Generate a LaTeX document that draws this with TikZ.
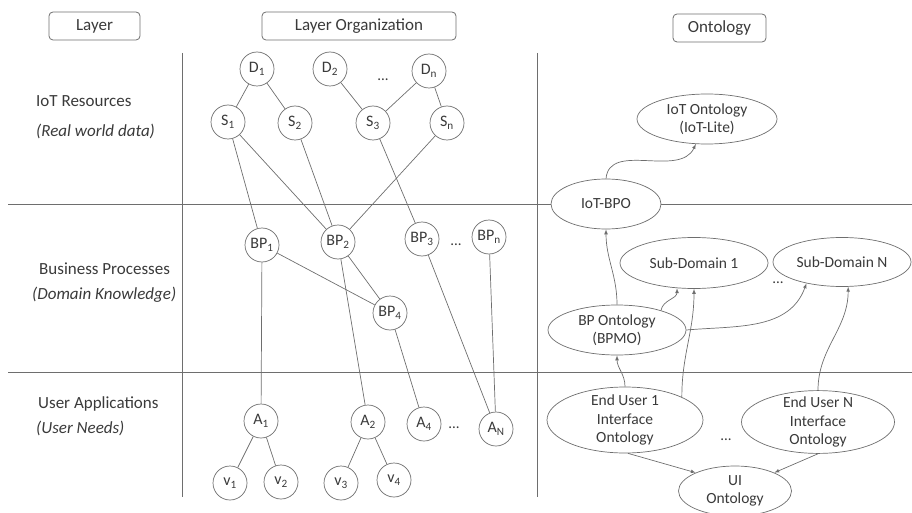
\documentclass[tikz,border=0pt]{standalone}
\usepackage{fontspec}
\setmainfont{Carlito}
\usetikzlibrary{arrows,shapes.geometric}
\definecolor{linegray}{HTML}{6E6E6E}
\definecolor{textgray}{HTML}{3A3A3A}

\begin{document}
\begin{tikzpicture}[x=1pt,y=1pt]
\tikzstyle{every node}=[text=textgray]
\tikzstyle{head}=[draw=linegray,line width=0.8pt,rounded corners=4pt,minimum height=28pt,inner sep=0pt,font=\fontsize{17}{20}\selectfont]
\tikzstyle{layer}=[anchor=west,inner sep=0pt,font=\fontsize{17}{20}\selectfont]
\tikzstyle{vtx}=[draw=linegray,fill=white,circle,line width=0.7pt,minimum size=34pt,inner sep=0pt,font=\fontsize{16}{18}\selectfont]
\tikzstyle{onto}=[draw=linegray,fill=white,ellipse,line width=0.7pt,inner sep=0pt,align=center,font=\fontsize{15.5}{18.5}\selectfont]
\tikzstyle{dots}=[inner sep=0pt,font=\fontsize{15}{18}\selectfont]
\tikzstyle{edge}=[draw=linegray,line width=0.7pt]
\tikzstyle{arr}=[-latex,draw=linegray,line width=0.7pt]
\useasboundingbox (0,0) rectangle (912,-513);
\draw[linegray,line width=0.8pt] (182,-53) -- (182,-497);
\draw[linegray,line width=0.8pt] (537,-53) -- (537,-497);
\draw[linegray,line width=0.8pt] (8,-204) -- (912,-204);
\draw[linegray,line width=0.8pt] (8,-372) -- (912,-372);
\draw (94.5,-26) node (hlayer) [head,minimum width=91pt] {Layer};
\draw (359,-26) node (horg) [head,minimum width=194pt] {Layer Organization};
\draw (719.5,-28) node (honto) [head,minimum width=93pt] {Ontology};
\draw (36,-101) node (liot) [layer] {IoT Resources};
\draw (36,-131) node (liotsub) [layer] {\textit{(Real world data)}};
\draw (39,-269) node (lbp) [layer] {Business Processes};
\draw (32,-295) node (lbpsub) [layer] {\textit{(Domain Knowledge)}};
\draw (38,-404) node (lua) [layer] {User Applications};
\draw (36,-428) node (luasub) [layer] {\textit{(User Needs)}};
\draw (257,-69) node (d1) [vtx] {D\textsubscript{1}};
\draw (330,-69) node (d2) [vtx] {D\textsubscript{2}};
\draw (429,-71) node (dn) [vtx] {D\textsubscript{n}};
\draw (383,-80) node (ddots) [dots] {...};
\draw (228,-122) node (s1) [vtx] {S\textsubscript{1}};
\draw (295,-123) node (s2) [vtx] {S\textsubscript{2}};
\draw (373,-123) node (s3) [vtx] {S\textsubscript{3}};
\draw (447,-123) node (sn) [vtx] {S\textsubscript{n}};
\draw (262,-245) node (bp1) [vtx] {BP\textsubscript{1}};
\draw (338,-242) node (bp2) [vtx] {BP\textsubscript{2}};
\draw (422,-239) node (bp3) [vtx] {BP\textsubscript{3}};
\draw (489,-237) node (bpn) [vtx] {BP\textsubscript{n}};
\draw (456,-245) node (bpdots) [dots] {...};
\draw (390,-313) node (bp4) [vtx] {BP\textsubscript{4}};
\draw (261,-421) node (a1) [vtx] {A\textsubscript{1}};
\draw (368,-422) node (a2) [vtx] {A\textsubscript{2}};
\draw (424,-424) node (a4) [vtx] {A\textsubscript{4}};
\draw (496,-429) node (an) [vtx] {A\textsubscript{N}};
\draw (454,-428) node (adots) [dots] {...};
\draw (230,-483) node (v1) [vtx] {v\textsubscript{1}};
\draw (281,-482) node (v2) [vtx] {v\textsubscript{2}};
\draw (341,-483) node (v3) [vtx] {v\textsubscript{3}};
\draw (394,-480) node (v4) [vtx] {v\textsubscript{4}};
\draw[edge] (d1) -- (s1);
\draw[edge] (d1) -- (s2);
\draw[edge] (d2) -- (s3);
\draw[edge] (dn) -- (s3);
\draw[edge] (dn) -- (sn);
\draw[edge] (s1) -- (bp1);
\draw[edge] (s1) -- (bp2);
\draw[edge] (s2) -- (bp2);
\draw[edge] (sn) -- (bp2);
\draw[edge] (s3) -- (bp3);
\draw[edge] (bp1) -- (bp4);
\draw[edge] (bp2) -- (bp4);
\draw[edge] (bp1) -- (a1);
\draw[edge] (bp2) -- (a2);
\draw[edge] (bp4) -- (a4);
\draw[edge] (bp3) -- (an);
\draw[edge] (bpn) -- (an);
\draw[edge] (a1) -- (v1);
\draw[edge] (a1) -- (v2);
\draw[edge] (a2) -- (v3);
\draw[edge] (a2) -- (v4);
\draw (707,-119) node (iotonto) [onto,minimum width=140pt,minimum height=50pt] {IoT Ontology\\(IoT-Lite)};
\draw (606,-204) node (iotbpo) [onto,minimum width=110pt,minimum height=50pt] {IoT-BPO};
\draw (694,-263) node (sub1) [onto,minimum width=148pt,minimum height=51pt] {Sub-Domain 1};
\draw (842,-262) node (subn) [onto,minimum width=138pt,minimum height=49pt] {Sub-Domain N};
\draw (778,-283) node (subdots) [dots] {...};
\draw (617,-330) node (bpmo) [onto,minimum width=138pt,minimum height=50pt] {BP Ontology\\(BPMO)};
\draw (625,-420) node (eu1) [onto,inner ysep=-3pt,minimum width=156pt,minimum height=66pt] {End User 1\\Interface\\Ontology};
\draw (818,-422) node (eun) [onto,inner ysep=-3pt,minimum width=153pt,minimum height=62pt] {End User N\\Interface\\Ontology};
\draw (726,-440) node (eudots) [dots] {...};
\draw (735,-491) node (ui) [onto,minimum width=113pt,minimum height=50pt] {UI\\Ontology};
\draw[arr] (iotbpo.north) to[out=85,in=-115] (iotonto.-114);
\draw[arr] (bpmo.north) to[out=90,in=-90] (iotbpo.south);
\draw[arr] (bpmo.24) to[out=80,in=-90] (sub1.-124);
\draw[arr] (bpmo.east) to[out=5,in=-110] (subn.-149);
\draw[arr] (eu1.north) to[out=90,in=-90] (bpmo.south);
\draw[arr] (eu1.22) to[out=90,in=-90] (sub1.south);
\draw[arr] (eun.north) to[out=90,in=-90] (subn.-76);
\draw[arr] (eu1.-85) -- (ui.155);
\draw[arr] (eun.south) -- (ui.25);
\end{tikzpicture}
\end{document}
